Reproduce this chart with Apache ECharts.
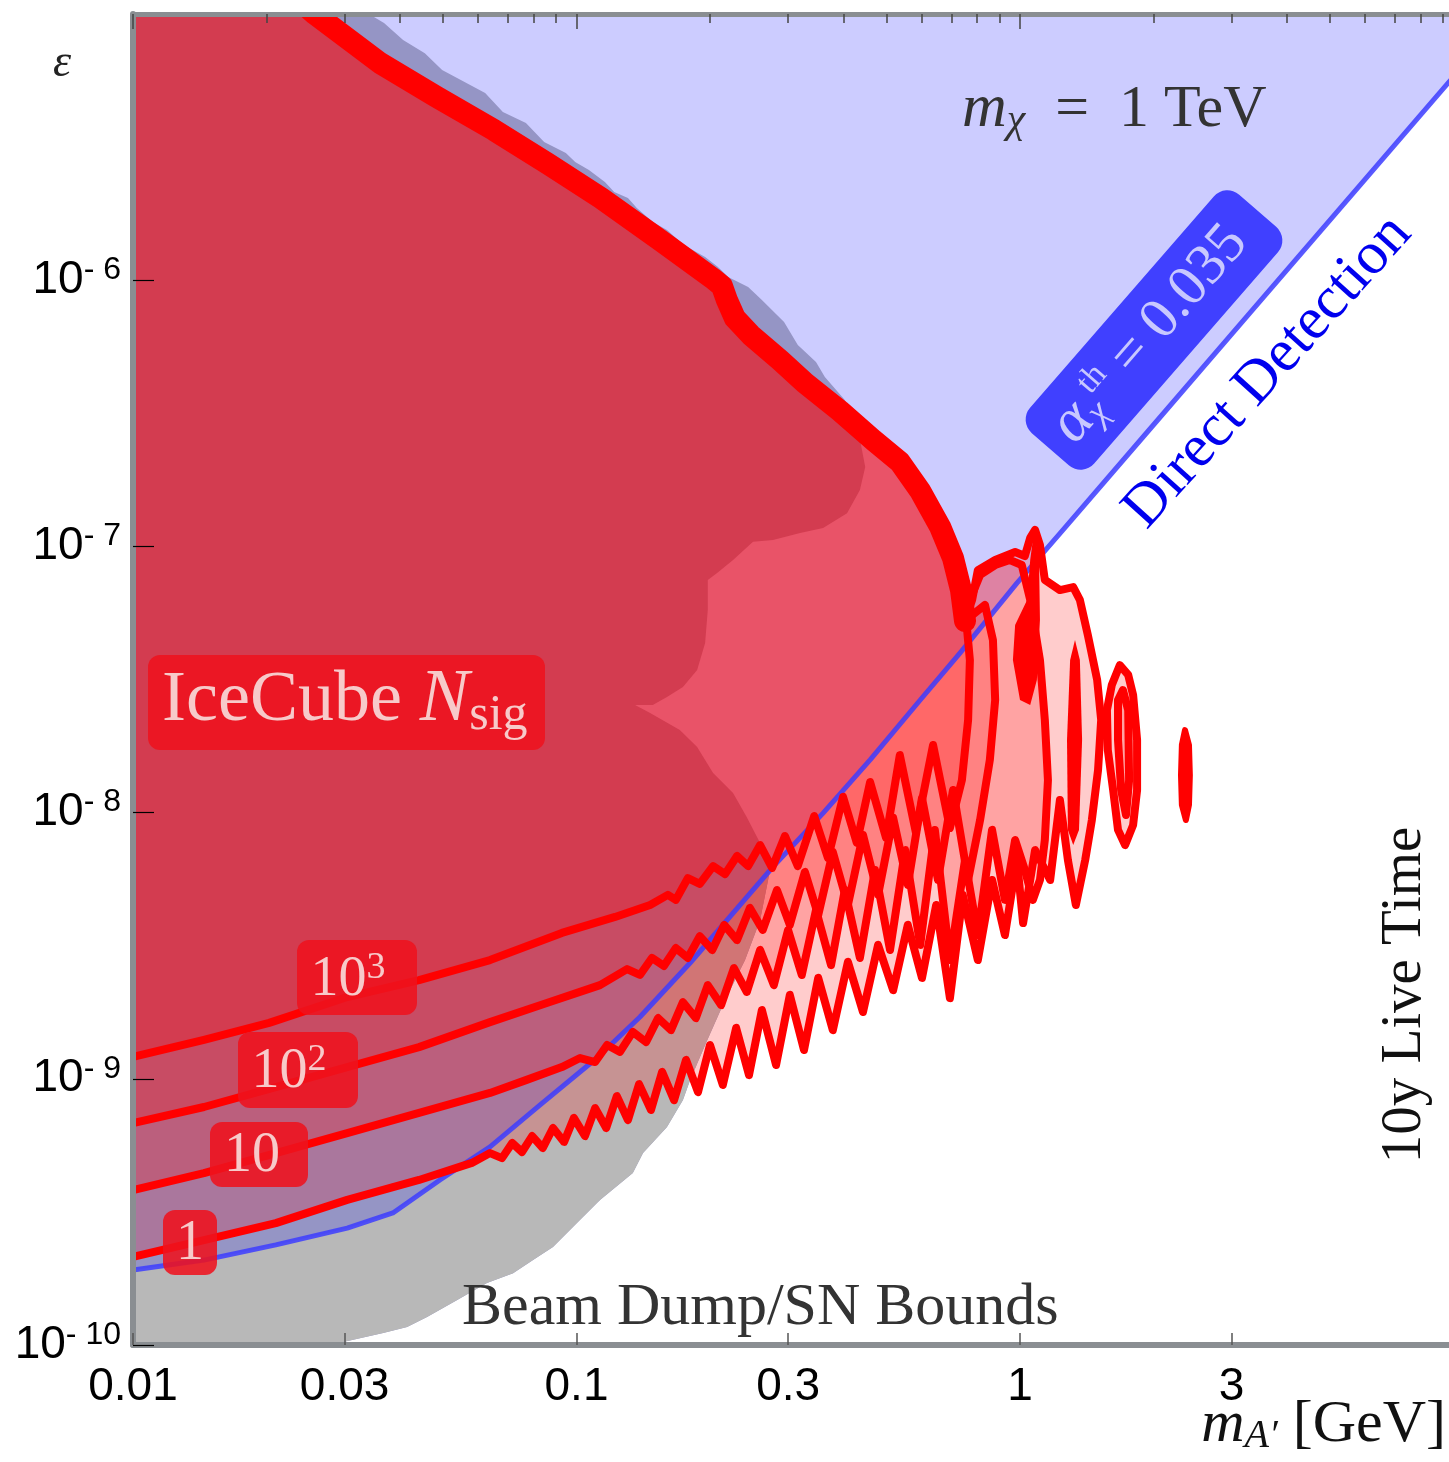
<!DOCTYPE html>
<html>
<head>
<meta charset="utf-8">
<script src="https://cdn.jsdelivr.net/npm/echarts@6/dist/echarts.min.js"></script>
<style>html,body{margin:0;padding:0;background:#fff}#c{width:1449px;height:1462px}</style>
</head>
<body>
<div id="c"></div>
<script>
// All points are [log10(m_A' / GeV), log10(epsilon)].

// Direct-detection bound (blue line); region above it is excluded (lavender)
const ddLine = [[-2.000,-9.718],[-1.840,-9.681],[-1.678,-9.624],[-1.517,-9.561],[-1.414,-9.504],[-1.308,-9.380],[-1.195,-9.256],[-1.082,-9.098],[-0.954,-8.922],[-0.857,-8.768],[-0.744,-8.565],[-0.631,-8.347],[-0.557,-8.204],[-0.444,-8.002],[-0.338,-7.802],[-0.225,-7.577],[-0.135,-7.400],[-0.007,-7.138],[0.097,-6.938],[0.293,-6.559],[0.519,-6.122],[0.744,-5.687],[0.967,-5.256],[1.000,-5.192]];

// Beam dump / SN bound edge, upper part (top edge down to where it meets the DD line)
const grayUpper = [[-1.468,-5.000],[-1.434,-5.034],[-1.391,-5.098],[-1.342,-5.147],[-1.303,-5.210],[-1.206,-5.297],[-1.166,-5.368],[-1.114,-5.409],[-1.073,-5.481],[-1.024,-5.522],[-1.003,-5.556],[-0.972,-5.586],[-0.936,-5.631],[-0.915,-5.669],[-0.884,-5.691],[-0.864,-5.729],[-0.828,-5.781],[-0.796,-5.811],[-0.758,-5.868],[-0.710,-5.913],[-0.681,-5.950],[-0.658,-5.988],[-0.613,-6.026],[-0.582,-6.074],[-0.532,-6.157],[-0.501,-6.243],[-0.460,-6.307],[-0.440,-6.364],[-0.395,-6.450],[-0.365,-6.563],[-0.349,-6.702],[-0.361,-6.788],[-0.390,-6.875],[-0.444,-6.931],[-0.496,-6.950],[-0.557,-6.976],[-0.602,-6.983],[-0.647,-7.051],[-0.683,-7.100],[-0.704,-7.126],[-0.704,-7.239],[-0.710,-7.363],[-0.728,-7.464],[-0.760,-7.528],[-0.796,-7.566],[-0.828,-7.596],[-0.868,-7.596],[-0.834,-7.626],[-0.767,-7.690],[-0.728,-7.754],[-0.692,-7.851],[-0.647,-7.926],[-0.616,-8.017],[-0.586,-8.114],[-0.564,-8.219]];
// Beam dump / SN bound edge, lower part (below the DD line, down to the bottom axis)
const grayLower = [[-0.564,-8.219],[-0.586,-8.403],[-0.620,-8.554],[-0.665,-8.704],[-0.710,-8.873],[-0.744,-9.005],[-0.760,-9.080],[-0.796,-9.181],[-0.850,-9.279],[-0.873,-9.354],[-0.947,-9.455],[-1.008,-9.557],[-1.053,-9.632],[-1.098,-9.681],[-1.143,-9.730],[-1.202,-9.767],[-1.269,-9.831],[-1.337,-9.895],[-1.382,-9.932],[-1.436,-9.955],[-1.526,-9.989],[-1.545,-10.000]];

// Upper boundary shared by all IceCube N_sig contours (thick red line)
const bandLine = [[-1.610,-4.970],[-1.590,-5.000],[-1.443,-5.184],[-1.315,-5.312],[-1.186,-5.436],[-1.064,-5.563],[-0.945,-5.691],[-0.812,-5.849],[-0.694,-5.992],[-0.672,-6.022],[-0.661,-6.074],[-0.643,-6.142],[-0.607,-6.206],[-0.541,-6.300],[-0.485,-6.386],[-0.406,-6.491],[-0.331,-6.600],[-0.271,-6.683],[-0.225,-6.792],[-0.180,-6.927],[-0.151,-7.044],[-0.133,-7.164],[-0.124,-7.280]];

// N_sig = 1 contour
const c1Right = [[-0.108,-7.201],[-0.095,-7.089],[-0.056,-7.051],[-0.011,-7.021],[0.011,-7.036],[0.023,-6.968],[0.034,-6.938],[0.045,-6.995],[0.056,-7.126],[0.090,-7.164],[0.120,-7.153],[0.135,-7.201],[0.153,-7.333],[0.174,-7.502],[0.183,-7.652],[0.176,-7.840],[0.162,-8.028],[0.147,-8.178]];
const c1Lower = [[-2.000,-9.669],[-1.840,-9.606],[-1.678,-9.542],[-1.517,-9.455],[-1.355,-9.380],[-1.236,-9.316],[-1.195,-9.279],[-1.168,-9.298],[-1.145,-9.241],[-1.123,-9.275],[-1.100,-9.215],[-1.076,-9.260],[-1.053,-9.185],[-1.028,-9.237],[-1.006,-9.147],[-0.981,-9.215],[-0.958,-9.110],[-0.933,-9.185],[-0.909,-9.065],[-0.884,-9.155],[-0.859,-9.020],[-0.832,-9.117],[-0.807,-8.974],[-0.780,-9.080],[-0.753,-8.929],[-0.726,-9.050],[-0.699,-8.873],[-0.670,-9.023],[-0.640,-8.809],[-0.611,-8.986],[-0.582,-8.742],[-0.550,-8.948],[-0.519,-8.685],[-0.487,-8.892],[-0.455,-8.621],[-0.422,-8.817],[-0.388,-8.561],[-0.354,-8.749],[-0.320,-8.497],[-0.286,-8.667],[-0.253,-8.422],[-0.221,-8.621],[-0.189,-8.347],[-0.158,-8.697],[-0.129,-8.310],[-0.095,-8.554],[-0.063,-8.253],[-0.034,-8.460],[-0.007,-8.178],[0.007,-8.415],[0.034,-8.141],[0.068,-8.253],[0.090,-7.953],[0.108,-8.178],[0.126,-8.347]];
const c1LobeD = [[0.196,-7.615],[0.207,-7.521],[0.225,-7.446],[0.244,-7.483],[0.255,-7.558],[0.264,-7.727],[0.264,-7.915],[0.255,-8.047],[0.237,-8.122],[0.221,-8.065],[0.210,-7.915],[0.198,-7.765]];
const c1LobeE = [[0.372,-7.690],[0.381,-7.746],[0.383,-7.859],[0.381,-7.971],[0.374,-8.028],[0.365,-7.971],[0.363,-7.859],[0.365,-7.746]];

// N_sig = 10 contour
const c10Right = [[-0.113,-7.201],[-0.090,-7.107],[-0.056,-7.070],[-0.023,-7.051],[0.004,-7.070],[0.023,-7.201],[0.045,-7.427],[0.056,-7.652],[0.063,-7.878],[0.056,-8.103],[0.045,-8.253],[0.029,-8.328],[0.011,-8.216]];
const c10Lower = [[-2.000,-9.418],[-1.840,-9.354],[-1.678,-9.279],[-1.517,-9.204],[-1.355,-9.128],[-1.195,-9.053],[-1.114,-9.005],[-1.033,-8.956],[-0.992,-8.922],[-0.958,-8.937],[-0.931,-8.873],[-0.902,-8.899],[-0.873,-8.824],[-0.843,-8.862],[-0.816,-8.772],[-0.787,-8.817],[-0.760,-8.712],[-0.731,-8.772],[-0.704,-8.648],[-0.674,-8.723],[-0.645,-8.584],[-0.616,-8.674],[-0.586,-8.516],[-0.555,-8.648],[-0.523,-8.441],[-0.492,-8.610],[-0.460,-8.366],[-0.426,-8.573],[-0.395,-8.291],[-0.361,-8.546],[-0.327,-8.216],[-0.293,-8.516],[-0.259,-8.141],[-0.225,-8.497],[-0.192,-8.065],[-0.158,-8.554],[-0.124,-8.178],[-0.095,-8.460],[-0.063,-8.065],[-0.034,-8.328],[-0.011,-8.103]];
const c10LobeD = [[0.221,-7.577],[0.232,-7.540],[0.244,-7.615],[0.246,-7.878],[0.239,-8.009],[0.228,-7.915],[0.221,-7.727]];

// N_sig = 10^2 contour
const c100Right = [[-0.079,-7.220],[-0.061,-7.352],[-0.056,-7.577],[-0.068,-7.802],[-0.090,-8.028]];
const c100Lower = [[-2.000,-9.166],[-1.840,-9.106],[-1.678,-9.031],[-1.517,-8.956],[-1.355,-8.881],[-1.195,-8.787],[-1.067,-8.715],[-0.947,-8.648],[-0.886,-8.588],[-0.857,-8.610],[-0.830,-8.546],[-0.803,-8.576],[-0.776,-8.509],[-0.749,-8.546],[-0.722,-8.464],[-0.694,-8.516],[-0.667,-8.422],[-0.638,-8.479],[-0.609,-8.358],[-0.580,-8.441],[-0.548,-8.291],[-0.519,-8.422],[-0.485,-8.223],[-0.455,-8.385],[-0.422,-8.148],[-0.388,-8.347],[-0.354,-8.084],[-0.320,-8.309],[-0.286,-8.020],[-0.253,-8.272],[-0.221,-7.945],[-0.185,-8.253],[-0.151,-7.915],[-0.117,-8.253]];

// N_sig = 10^3 contour
const c1000Right = [[-0.120,-7.300],[-0.113,-7.427],[-0.117,-7.652],[-0.131,-7.878]];
const c1000Lower = [[-2.000,-8.918],[-1.840,-8.854],[-1.693,-8.790],[-1.517,-8.693],[-1.355,-8.629],[-1.195,-8.554],[-1.033,-8.452],[-0.913,-8.392],[-0.834,-8.347],[-0.794,-8.309],[-0.776,-8.328],[-0.749,-8.246],[-0.722,-8.268],[-0.692,-8.201],[-0.665,-8.231],[-0.638,-8.163],[-0.613,-8.201],[-0.586,-8.122],[-0.559,-8.208],[-0.530,-8.088],[-0.501,-8.201],[-0.464,-8.013],[-0.433,-8.171],[-0.399,-7.941],[-0.368,-8.114],[-0.338,-7.885],[-0.302,-8.095],[-0.271,-7.784],[-0.235,-8.073],[-0.196,-7.746],[-0.158,-8.058]];

// Narrow resonance islands where several contours pile up (solid red)
const bladeA = [[0.032,-6.938],[0.043,-7.051],[0.045,-7.276],[0.038,-7.502],[0.023,-7.596],[0.000,-7.577],[-0.016,-7.427],[-0.011,-7.295],[0.016,-7.201],[0.023,-7.051]];
const bladeB = [[0.108,-8.065],[0.106,-7.727],[0.113,-7.427],[0.124,-7.352],[0.135,-7.427],[0.140,-7.727],[0.133,-8.065],[0.120,-8.122]];

// Axis ticks
const xTickMasses = [0.01, 0.03, 0.1, 0.3, 1, 3];
const xMajorMasses = [0.01, 0.1, 1];
const xMinorMasses = [0.02,0.03,0.04,0.05,0.06,0.07,0.08,0.09,0.2,0.3,0.4,0.5,0.6,0.7,0.8,0.9,2,3,4,5,6,7,8,9];
const yTickExps = [-10, -9, -8, -7, -6];

// ---------- build ----------
const X0 = -2, X1 = 0.9673, Y0 = -10, Y1 = -5;
const topLeft = [X0, Y1], botLeft = [X0, Y0], topRight = [1.0, Y1];
const rev = a => a.slice().reverse();

const lavenderPoly = ddLine.concat([topRight, topLeft]);
const grayPoly = [topLeft].concat(grayUpper, grayLower.slice(1), [botLeft]);
const crossX = grayLower[0][0];
const grayBelowPoly = ddLine.filter(p => p[0] < crossX).concat(grayLower, [botLeft]);

function contourPath(right, lower) { return bandLine.concat(right, rev(lower)); }
const c1Path = contourPath(c1Right, c1Lower);
const c10Path = contourPath(c10Right, c10Lower);
const c100Path = contourPath(c100Right, c100Lower);
const c1000Path = contourPath(c1000Right, c1000Lower);

function polySeries(pts, fill) {
  return { type: 'custom', coordinateSystem: 'cartesian2d', clip: true, silent: true, animation: false,
    data: [[pts[0][0], pts[0][1]]],
    renderItem: (params, api) => ({ type: 'polygon', shape: { points: pts.map(p => api.coord(p)) }, style: { fill: fill } }) };
}
function lineSeries(pts, stroke, width, closed, opacity) {
  return { type: 'custom', coordinateSystem: 'cartesian2d', clip: true, silent: true, animation: false,
    data: [[pts[0][0], pts[0][1]]],
    renderItem: (params, api) => ({ type: closed ? 'polygon' : 'polyline', shape: { points: pts.map(p => api.coord(p)) },
      style: { fill: 'none', stroke: stroke, lineWidth: width, lineJoin: 'round', lineCap: 'round', opacity: opacity == null ? 1 : opacity } }) };
}

const RED_FILL = 'rgba(255,0,0,0.2)';
const RED = '#ff0000';
const LW = 8;

const series = [
  polySeries(lavenderPoly, '#ccccff'),
  polySeries(grayPoly, '#9595c5'),
  polySeries(grayBelowPoly, '#b8b8b8'),
  polySeries([topLeft].concat(c1Path), RED_FILL),
  polySeries([topLeft].concat(c10Path), RED_FILL),
  polySeries([topLeft].concat(c100Path), RED_FILL),
  polySeries([topLeft].concat(c1000Path), RED_FILL),
  polySeries(c1LobeD, RED_FILL),
  polySeries(c10LobeD, RED_FILL),
  lineSeries(ddLine, '#3c3cff', 5, false, 0.85),
  lineSeries(c1Path, RED, LW, false),
  lineSeries(c10Path, RED, LW, false),
  lineSeries(c100Path, RED, LW, false),
  lineSeries(c1000Path, RED, LW, false),
  lineSeries(c1LobeD, RED, LW, true),
  lineSeries(c10LobeD, RED, LW, true),
  polySeries(c1LobeE, RED),
  lineSeries(c1LobeE, RED, 6, true),
  polySeries(bladeA, RED),
  polySeries(bladeB, RED),
  lineSeries(bandLine, RED, 22, false)
];

const FRAME = '#8a8e92';
const SERIF = 'Liberation Serif';
const PINK = '#f7caca';
const BOX = 'rgba(238,18,30,0.88)';

const option = {
  animation: false,
  backgroundColor: '#ffffff',
  grid: { left: 133, top: 14, width: 1316, height: 1331, containLabel: false },
  xAxis: [
    { type: 'value', min: X0, max: X1, position: 'bottom', z: 10,
      axisLine: { show: true, onZero: false, lineStyle: { color: FRAME, width: 6 } },
      axisTick: { show: true, inside: true, length: 12, customValues: xTickMasses.map(m => Math.log10(m)), lineStyle: { color: '#555', width: 1.5 } },
      axisLabel: { show: true, customValues: xTickMasses.map(m => Math.log10(m)),
        formatter: v => String(Number(Math.pow(10, v).toPrecision(1))),
        fontFamily: 'Liberation Sans', fontSize: 46, color: '#000', margin: 19 },
      splitLine: { show: false } },
    { type: 'value', min: X0, max: X1, position: 'top', z: 10,
      axisLine: { show: true, onZero: false, lineStyle: { color: FRAME, width: 5 } },
      axisTick: { show: true, inside: true, length: 9, customValues: xMinorMasses.map(m => Math.log10(m)), lineStyle: { color: '#444', width: 1.5 } },
      axisLabel: { show: false }, splitLine: { show: false } },
    { type: 'value', min: X0, max: X1, position: 'top', z: 10,
      axisLine: { show: false },
      axisTick: { show: true, inside: true, length: 15, customValues: xMajorMasses.map(m => Math.log10(m)), lineStyle: { color: '#444', width: 1.5 } },
      axisLabel: { show: false }, splitLine: { show: false } }
  ],
  yAxis: [
    { type: 'value', min: Y0, max: Y1, z: 10,
      axisLine: { show: true, onZero: false, lineStyle: { color: FRAME, width: 6 } },
      axisTick: { show: true, inside: true, length: 21, customValues: yTickExps, lineStyle: { color: '#000', width: 1.2 } },
      axisLabel: { show: true, customValues: yTickExps, margin: 12,
        formatter: v => '{b|10}{s|- ' + (-v) + '}',
        rich: { b: { fontFamily: 'Liberation Sans', fontSize: 46, color: '#000', lineHeight: 52, verticalAlign: 'middle' },
                s: { fontFamily: 'Liberation Sans', fontSize: 32, color: '#000', lineHeight: 30, verticalAlign: 'top' } } },
      splitLine: { show: false } }
  ],
  series: series,
  graphic: { elements: [
    // IceCube label
    { type: 'rect', z: 100, shape: { x: 148, y: 655, width: 397, height: 95, r: 12 }, style: { fill: BOX } },
    { type: 'text', z: 101, x: 162, y: 701, style: { text: '{r|IceCube }{i|N}{sub|sig}', align: 'left', verticalAlign: 'middle',
      rich: { r: { fontFamily: SERIF, fontSize: 72, fill: PINK, lineHeight: 80, verticalAlign: 'middle' },
              i: { fontFamily: SERIF, fontStyle: 'italic', fontSize: 74, fill: PINK, lineHeight: 80, verticalAlign: 'middle' },
              sub: { fontFamily: SERIF, fontSize: 50, fill: PINK, lineHeight: 46, verticalAlign: 'bottom' } } } },
    // contour level labels
    { type: 'rect', z: 100, shape: { x: 297, y: 940, width: 120, height: 75, r: 12 }, style: { fill: BOX } },
    { type: 'text', z: 101, x: 348, y: 980, style: { text: '{b|10}{s|3}', align: 'center', verticalAlign: 'middle',
      rich: { b: { fontFamily: SERIF, fontSize: 56, fill: PINK, lineHeight: 62, verticalAlign: 'middle' },
              s: { fontFamily: SERIF, fontSize: 38, fill: PINK, lineHeight: 34, verticalAlign: 'top' } } } },
    { type: 'rect', z: 100, shape: { x: 238, y: 1032, width: 120, height: 76, r: 12 }, style: { fill: BOX } },
    { type: 'text', z: 101, x: 289, y: 1072, style: { text: '{b|10}{s|2}', align: 'center', verticalAlign: 'middle',
      rich: { b: { fontFamily: SERIF, fontSize: 56, fill: PINK, lineHeight: 62, verticalAlign: 'middle' },
              s: { fontFamily: SERIF, fontSize: 38, fill: PINK, lineHeight: 34, verticalAlign: 'top' } } } },
    { type: 'rect', z: 100, shape: { x: 210, y: 1122, width: 98, height: 65, r: 12 }, style: { fill: BOX } },
    { type: 'text', z: 101, x: 252, y: 1156, style: { text: '10', align: 'center', verticalAlign: 'middle', fontFamily: SERIF, fontSize: 56, fill: PINK } },
    { type: 'rect', z: 100, shape: { x: 163, y: 1210, width: 54, height: 65, r: 12 }, style: { fill: BOX } },
    { type: 'text', z: 101, x: 190, y: 1244, style: { text: '1', align: 'center', verticalAlign: 'middle', fontFamily: SERIF, fontSize: 56, fill: PINK } },
    // alpha label (rotated)
    { type: 'rect', z: 100, x: 1154, y: 330, rotation: 0.855, shape: { x: -158, y: -42.5, width: 316, height: 85, r: 18 }, style: { fill: '#4040ff' } },
    { type: 'text', z: 101, x: 1150, y: 334, rotation: 0.855, style: { text: '{i|α}{sub|χ}{sup|th}{r| = 0.035}', align: 'center', verticalAlign: 'middle',
      rich: { i: { fontFamily: SERIF, fontStyle: 'italic', fontSize: 62, fill: '#c8c8ff', lineHeight: 62, verticalAlign: 'middle' },
              sub: { fontFamily: SERIF, fontStyle: 'italic', fontSize: 36, fill: '#c8c8ff', lineHeight: 34, verticalAlign: 'bottom' },
              sup: { fontFamily: SERIF, fontSize: 34, fill: '#c8c8ff', lineHeight: 30, verticalAlign: 'top' },
              r: { fontFamily: SERIF, fontSize: 58, fill: '#c8c8ff', lineHeight: 62, verticalAlign: 'middle' } } } },
    // Direct Detection
    { type: 'text', z: 101, x: 1268, y: 372, rotation: 0.838, style: { text: 'Direct Detection', align: 'center', verticalAlign: 'middle', fontFamily: SERIF, fontSize: 60, fill: '#0000ee' } },
    // m_chi = 1 TeV
    { type: 'text', z: 101, x: 962, y: 110, style: { text: '{i|m}{sub|χ}{r|\u2002=\u20021 TeV}', align: 'left', verticalAlign: 'middle',
      rich: { i: { fontFamily: SERIF, fontStyle: 'italic', fontSize: 62, fill: '#333', lineHeight: 64, verticalAlign: 'middle' },
              sub: { fontFamily: SERIF, fontStyle: 'italic', fontSize: 42, fill: '#333', lineHeight: 40, verticalAlign: 'bottom' },
              r: { fontFamily: SERIF, fontSize: 60, fill: '#333', lineHeight: 64, verticalAlign: 'middle' } } } },
    // 10y Live Time
    { type: 'text', z: 101, x: 1405, y: 995, rotation: Math.PI / 2, style: { text: '10y Live Time', align: 'center', verticalAlign: 'middle', fontFamily: SERIF, fontSize: 57, fill: '#111' } },
    // Beam Dump / SN Bounds
    { type: 'text', z: 101, x: 462, y: 1308, style: { text: 'Beam Dump/SN Bounds', align: 'left', verticalAlign: 'middle', fontFamily: SERIF, fontSize: 60, fill: '#333' } },
    // epsilon axis label
    { type: 'text', z: 101, x: 62, y: 64, style: { text: 'ε', align: 'center', verticalAlign: 'middle', fontFamily: SERIF, fontStyle: 'italic', fontSize: 46, fill: '#222' } },
    // x-axis title
    { type: 'text', z: 101, x: 1446, y: 1425, style: { text: '{i|m}{sub|A′}{r| [GeV]}', align: 'right', verticalAlign: 'middle',
      rich: { i: { fontFamily: SERIF, fontStyle: 'italic', fontSize: 60, fill: '#111', lineHeight: 62, verticalAlign: 'middle' },
              sub: { fontFamily: SERIF, fontStyle: 'italic', fontSize: 40, fill: '#111', lineHeight: 38, verticalAlign: 'bottom' },
              r: { fontFamily: SERIF, fontSize: 60, fill: '#111', lineHeight: 62, verticalAlign: 'middle' } } } }
  ] }
};

const chart = echarts.init(document.getElementById('c'), null, { renderer: 'canvas', width: 1449, height: 1462 });
chart.setOption(option);
</script>
</body>
</html>
